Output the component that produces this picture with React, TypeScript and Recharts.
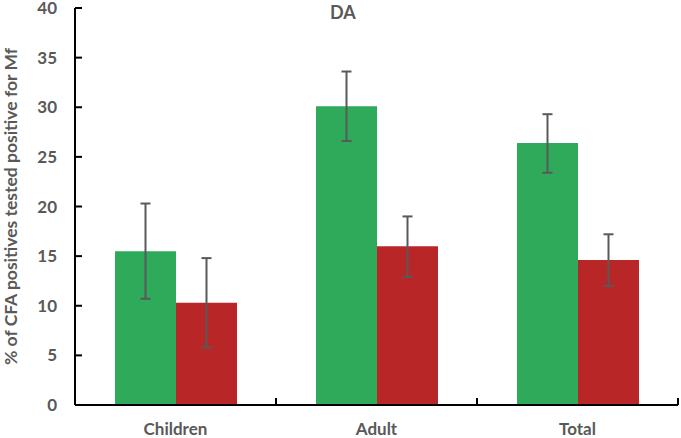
import React from 'react';
import { BarChart, Bar, XAxis, YAxis, ErrorBar } from 'recharts';

const categories = ['Children', 'Adult', 'Total'];
const greenValues = [15.5, 30.1, 26.4];
const greenErrors = [[4.8, 4.8], [3.5, 3.5], [3.0, 2.9]];
const redValues = [10.3, 16.0, 14.6];
const redErrors = [[4.5, 4.5], [3.1, 3.0], [2.6, 2.6]];
const yTicks = [0, 5, 10, 15, 20, 25, 30, 35, 40];

const data = categories.map((name, i) => ({
  name,
  green: greenValues[i],
  greenErr: greenErrors[i],
  red: redValues[i],
  redErr: redErrors[i],
}));

const gray = '#595959';
const font = 'Lato, "Open Sans", sans-serif';
const xTickMargin = 14;

// category label plus the small inward tick at the right edge of each band
const CategoryTick = (props: any) => {
  const { x, y, payload } = props;
  const half = payload && payload.offset ? payload.offset : 0;
  const axisY = y - xTickMargin - 6;
  return (
    <g>
      {half > 0 && (
        <line x1={x + half} x2={x + half} y1={axisY} y2={axisY - 7} stroke="#000" strokeWidth={2} />
      )}
      <text x={x} y={y} dy={10} textAnchor="middle" fill={gray} fontSize={17} fontWeight={700} fontFamily={font}>
        {payload.value}
      </text>
    </g>
  );
};

const App: React.FC = () => {
  return (
    <div style={{ position: 'absolute', left: 0, top: 0, width: 681, height: 438, background: '#fff' }}>
      <div
        style={{
          position: 'absolute',
          left: 330,
          top: 1,
          fontFamily: font,
          fontWeight: 700,
          fontSize: 18,
          color: gray,
        }}
      >
        DA
      </div>
      <BarChart
        width={681}
        height={438}
        data={data}
        margin={{ top: 8, right: 3, bottom: 0, left: 0 }}
        barGap={0}
        barSize={61}
      >
        <XAxis
          dataKey="name"
          height={33}
          tickLine={false}
          axisLine={{ stroke: '#000', strokeWidth: 2 }}
          tick={<CategoryTick />}
          tickMargin={xTickMargin}
          interval={0}
        />
        <YAxis
          width={75}
          domain={[0, 40]}
          ticks={yTicks}
          interval={0}
          axisLine={{ stroke: '#000', strokeWidth: 2 }}
          tickSize={-7}
          tickMargin={25}
          tickLine={{ stroke: '#000', strokeWidth: 2 }}
          tick={{ fill: gray, fontSize: 17, fontWeight: 700, fontFamily: font }}
          label={{
            value: '% of CFA positives tested positive for Mf',
            angle: -90,
            position: 'insideLeft',
            offset: 11,
            style: { textAnchor: 'middle', fill: gray, fontSize: 17.5, fontWeight: 700, fontFamily: font },
          }}
        />
        <Bar dataKey="green" fill="#2EAA5A" isAnimationActive={false}>
          <ErrorBar dataKey="greenErr" stroke={gray} strokeWidth={2} width={5} />
        </Bar>
        <Bar dataKey="red" fill="#B82628" isAnimationActive={false}>
          <ErrorBar dataKey="redErr" stroke={gray} strokeWidth={2} width={5} />
        </Bar>
      </BarChart>
    </div>
  );
};

export default App;
